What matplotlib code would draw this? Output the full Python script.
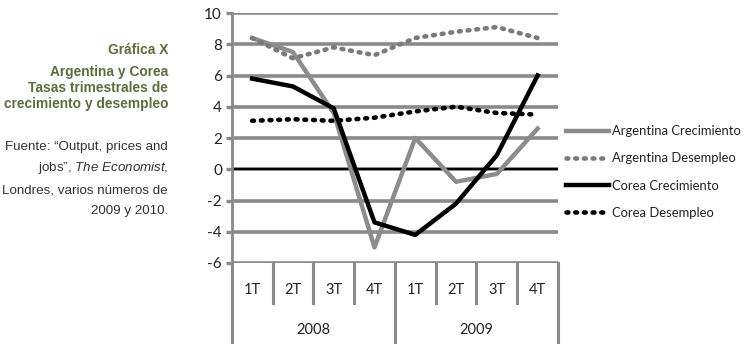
import numpy as np
import matplotlib
matplotlib.use("Agg")
import matplotlib.pyplot as plt
import matplotlib.transforms as mtrans

# data
quarters = ["1T", "2T", "3T", "4T", "1T", "2T", "3T", "4T"]
years = ["2008", "2009"]
arg_crec = [8.4, 7.5, 3.6, -5.0, 2.0, -0.8, -0.3, 2.6]
arg_desemp = [8.4, 7.1, 7.8, 7.3, 8.4, 8.8, 9.1, 8.4]
cor_crec = [5.8, 5.3, 3.9, -3.4, -4.2, -2.2, 0.9, 6.0]
cor_desemp = [3.1, 3.2, 3.1, 3.3, 3.7, 4.0, 3.6, 3.5]

plt.rcParams["axes.unicode_minus"] = False
plt.rcParams["mathtext.fontset"] = "custom"
plt.rcParams["mathtext.it"] = "Liberation Sans:italic"
plt.rcParams["mathtext.rm"] = "Liberation Sans"

grid_gray = "#8a8a8a"
line_gray = "#8c8c8c"
txt = "#222222"
dots = (0, (0.4, 1.5))

fig = plt.figure(figsize=(7.5, 3.48), dpi=100)
ax = fig.add_axes([0.309, 1 - 263 / 348, 0.435, 250 / 348])

x = np.arange(len(quarters))
ax.set_xlim(-0.5, len(quarters) - 0.5)
ax.set_ylim(-6, 10)
ax.set_yticks(np.arange(-6, 11, 2))
ax.yaxis.grid(True, color=grid_gray, lw=2.6)
ax.set_axisbelow(True)
ax.axhline(0, color="black", lw=1.6, zorder=2)

ax.plot(x, arg_crec, color=line_gray, lw=3.2, label="Argentina Crecimiento", zorder=3)
ax.plot(x, arg_desemp, color="#7a7a7a", lw=3.3, ls=dots,
        dash_capstyle="round", label="Argentina Desempleo", zorder=3)
ax.plot(x, cor_crec, color="black", lw=3.2, label="Corea Crecimiento", zorder=4)
ax.plot(x, cor_desemp, color="black", lw=3.3, ls=dots,
        dash_capstyle="round", label="Corea Desempleo", zorder=4)

for s in ["top", "right", "bottom"]:
    ax.spines[s].set_visible(False)
ax.spines["left"].set_color(grid_gray)
ax.spines["left"].set_linewidth(2)
ax.tick_params(axis="y", length=4, width=2.4, color=grid_gray, labelsize=11,
               pad=3, labelcolor=txt)
ax.set_xticks([])
for lab in ax.get_yticklabels():
    lab.set_fontfamily("Lato")

# two-level category axis below the plot
tr = mtrans.blended_transform_factory(ax.transData, ax.transAxes)
row1 = -0.16
row2 = -0.316
for i, q in enumerate(quarters):
    ax.text(x[i], -0.108, q, transform=tr, ha="center", va="center",
            fontsize=10.5, family="Lato", color=txt)
for i in range(len(quarters) + 1):
    xb = i - 0.5
    full = i % 4 == 0
    ax.plot([xb, xb], [0, row2 if full else row1], transform=tr, color=grid_gray,
            lw=2.2, clip_on=False)
for j, yr in enumerate(years):
    ax.text(j * 4 + 1.5, -0.268, yr, transform=tr, ha="center", va="center",
            fontsize=10.5, family="Lato", color=txt)

leg = fig.legend(loc="center left", bbox_to_anchor=(566 / 750, 1 - 172 / 348),
                 frameon=False, borderpad=0, borderaxespad=0,
                 prop={"family": "Lato", "size": 9.4}, handlelength=3.3,
                 handletextpad=0.25, labelspacing=1.15)
for t in leg.get_texts():
    t.set_color(txt)

# left side caption
green = "#5b6e3c"
title_lines = ["Gráfica X", "Argentina y Corea", "Tasas trimestrales de",
               "crecimiento y desempleo"]
title_y = [50, 72, 88, 104]
for t, yp in zip(title_lines, title_y):
    fig.text(168 / 750, 1 - yp / 348, t, ha="right", va="center", fontsize=9.9,
             fontweight="bold", color=green, family="Liberation Sans")

src_lines = ["Fuente: \u201cOutput, prices and",
             "jobs\u201d, $\\it{The\\ Economist}$,",
             "Londres, varios números de",
             "2009 y 2010."]
src_y = [147, 168, 190, 211]
for t, yp in zip(src_lines, src_y):
    fig.text(168 / 750, 1 - yp / 348, t, ha="right", va="center", fontsize=9.6,
             color="#333333", family="Liberation Sans")

fig.savefig("out.png", dpi=100)
